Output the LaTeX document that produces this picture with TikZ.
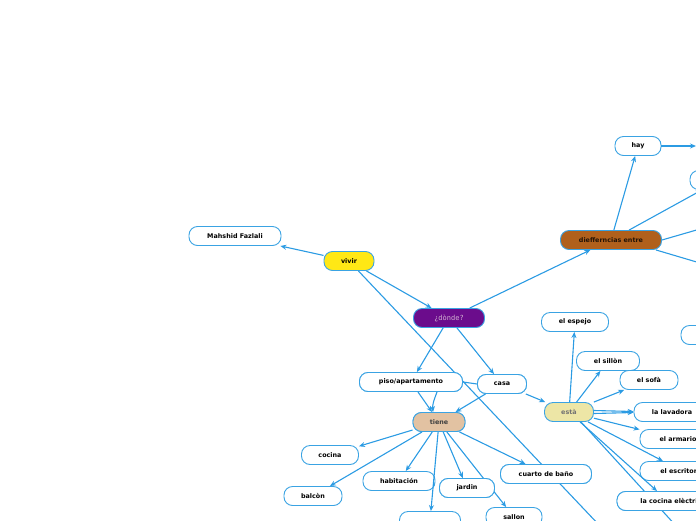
\documentclass[tikz,border=0pt]{standalone}
\usepackage{fontspec}
\setmainfont{DejaVu Sans}
\newfontfamily\monof{DejaVu Sans Mono}
\usetikzlibrary{arrows.meta}
\definecolor{lineblue}{HTML}{2B9BE3}
\definecolor{borderblue}{HTML}{3AA3E3}
\definecolor{vyellow}{HTML}{FFE815}
\definecolor{dpurple}{HTML}{6B0C8C}
\definecolor{dbrown}{HTML}{B0601C}
\definecolor{tan}{HTML}{E2C2A2}
\definecolor{pale}{HTML}{EDE6A6}
\tikzset{
  box/.style={draw=borderblue, line width=0.9pt, fill=white, rounded corners=8.5pt,
    minimum height=19pt, inner sep=1pt, font=\fontsize{6.4}{7.5}\selectfont\bfseries, text=black},
  conn/.style={draw=lineblue, line width=1.1pt, -{Stealth[length=6pt,width=5pt]}},
  plain/.style={draw=lineblue, line width=1.1pt},
}
\begin{document}
\begin{tikzpicture}[x=1pt,y=-1pt]
\useasboundingbox (0,0) rectangle (696,520);
\clip (0,0) rectangle (696,520);
\coordinate (offA) at (600,526);
\coordinate (offB) at (678,528);
\coordinate (offR1) at (700,229);
\coordinate (offR2) at (700,263);
\coordinate (offR3) at (696,146);

% nodes
\node[box, minimum width=92pt] (mah) at (235,236) {Mahshid Fazlali};
\node[box, minimum width=50pt, fill=vyellow] (vivir) at (349,261) {vivir};
\node[box, minimum width=71pt, fill=dpurple, text=black!20!violet!30!white, font=\monof\fontsize{7}{8}\selectfont] (donde) at (449,318) {¿dònde?};
\node[box, minimum width=101pt, fill=dbrown, text=black!80!dbrown] (dif) at (611,240) {diefferncias entre};
\node[box, minimum width=46pt] (hay) at (638,146) {hay};
\node[box, minimum width=60pt] (r1) at (720,180) {};
\node[box, minimum width=60pt] (r2) at (711,335) {};
\node[box, minimum width=103pt] (piso) at (411,382) {piso/apartamento};
\node[box, minimum width=49pt] (casa) at (502,384) {casa};
\node[box, minimum width=52pt, fill=tan, text=black!75] (tiene) at (439,422) {tiene};
\node[box, minimum width=57pt] (cocina) at (330,455) {cocina};
\node[box, minimum width=58pt] (balcon) at (313,496) {balcòn};
\node[box, minimum width=72pt] (hab) at (399,481) {habitación};
\node[box, minimum width=55pt] (jardin) at (467,488) {jardin};
\node[box, minimum width=91pt] (cuarto) at (546,474) {cuarto de baño};
\node[box, minimum width=61pt] (bot) at (430,521) {};
\node[box, minimum width=56pt] (sallon) at (514,517) {sallon};
\node[box, minimum width=49pt, fill=pale, text=black!55] (esta) at (569,412) {està};
\node[box, minimum width=67pt] (espejo) at (575,322) {el espejo};
\node[box, minimum width=63pt] (sillon) at (608,361) {el sillòn};
\node[box, minimum width=58pt] (sofa) at (649,380) {el sofà};
\node[box, minimum width=76pt] (lav) at (672,412) {la lavadora};
\node[box, minimum width=76pt] (arm) at (678,439) {el armario};
\node[box, minimum width=84pt] (esc) at (682,471) {el escritorio};
\node[box, minimum width=112pt] (coc) at (673,501) {la cocina elèctrica};

% connectors
\draw[conn] (vivir) -- (mah);
\draw[conn] (vivir) -- (donde);
\draw[conn] (donde) -- (dif);
\draw[conn] (donde) -- (piso);
\draw[conn] (donde) -- (casa);
\draw[conn] (dif) -- (hay);
\draw[conn] (dif) -- (r1);
\draw[conn] (hay) -- (offR3);
\draw[plain] (dif.east) -- (offR1);
\draw[plain] ([xshift=-6pt]dif.south east) -- (offR2);
\draw[conn] (piso) -- (tiene);
\draw[conn] ([xshift=26pt]piso.south) to[out=-110,in=95] ([xshift=-6pt]tiene.north);
\draw[plain] (piso.east) -- (casa.west);
\draw[conn] (casa) -- (tiene);
\draw[conn] (casa) -- (esta);
\draw[conn] (tiene) -- (cocina);
\draw[conn] (tiene) -- (balcon);
\draw[conn] (tiene) -- (hab);
\draw[conn] (tiene) -- (bot);
\draw[conn] (tiene) -- (jardin);
\draw[conn] (tiene) -- (cuarto);
\draw[conn] (esta) -- (espejo);
\draw[conn] (esta) -- (sillon);
\draw[conn] (esta) -- (sofa);
\draw[conn] ([yshift=-1.5pt]esta.east) -- ([yshift=-0.5pt]lav.west);
\draw[conn] ([yshift=1.5pt]esta.east) -- ([yshift=0.5pt]lav.west);
\draw[conn] (esta) -- (arm);
\draw[conn] (esta) -- (esc);
\draw[conn] (esta) -- ([xshift=-16pt]coc.north);

% lines passing behind nodes: redraw those nodes on top
\draw[plain] (vivir) -- (offA);
\draw[conn] (tiene) -- (sallon);
\draw[plain] ([xshift=12pt]esta.south) -- (offB);
\node[box, minimum width=91pt] at (cuarto) {cuarto de baño};
\node[box, minimum width=55pt] at (jardin) {jardin};
\node[box, minimum width=112pt] at (coc) {la cocina elèctrica};
\node[box, minimum width=103pt] at (piso) {piso/apartamento};
\node[box, minimum width=49pt] at (casa) {casa};
\node[box, minimum width=52pt, fill=tan, text=black!75] at (tiene) {tiene};
\end{tikzpicture}
\end{document}
